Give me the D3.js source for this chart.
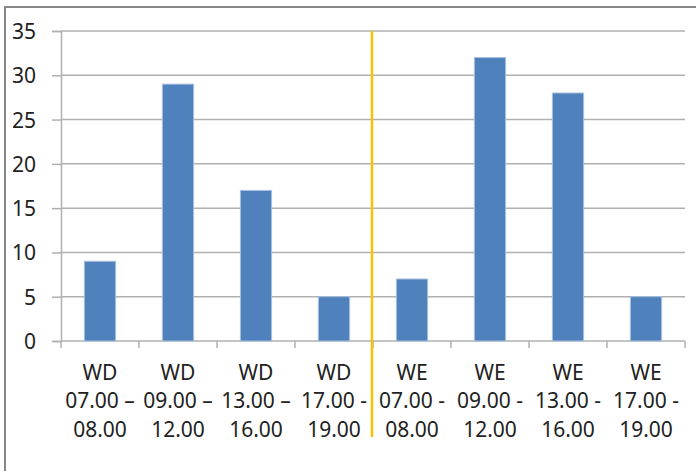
<!DOCTYPE html>
<html><head><meta charset="utf-8">
<script src="https://cdn.jsdelivr.net/npm/d3@7"></script>
<style>body{margin:0;background:#fff;}svg{display:block;}text{font-family:"Noto Sans",sans-serif;fill:#222;}</style>
</head><body><svg id="c" width="698" height="471"></svg>
<script>
const groups = ["WD","WD","WD","WD","WE","WE","WE","WE"];
const startTimes = ["07.00 –","09.00 –","13.00 –","17.00 -","07.00 -","09.00 -","13.00 -","17.00 -"];
const endTimes = ["08.00","12.00","16.00","19.00","08.00","12.00","16.00","19.00"];
const values = [9,29,17,5,7,32,28,5];
const yTicks = [0,5,10,15,20,25,30,35];
const dividerAfter = 4;

(function(){
const svg = d3.select("#c");
const pL=61, pR=685, pT=31, pB=341;
const idx = d3.range(values.length);
const x = d3.scaleBand().domain(idx).range([pL,pR]).paddingInner(0.6).paddingOuter(0.3);
const xb = d3.scaleBand().domain(idx).range([pL,pR]);
const y = d3.scaleLinear().domain([0,35]).range([pB,pT]);

// outer border (top and left)
svg.append("line").attr("x1",5).attr("x2",696).attr("y1",7).attr("y2",7).attr("stroke","#888").attr("stroke-width",2);
svg.append("line").attr("x1",5).attr("x2",5).attr("y1",6).attr("y2",471).attr("stroke","#888").attr("stroke-width",2);

// gridlines
svg.append("g").selectAll("line").data(yTicks.filter(d=>d>0)).join("line")
  .attr("x1",pL).attr("x2",pR).attr("y1",d=>y(d)).attr("y2",d=>y(d))
  .attr("stroke","#b0b0b0").attr("stroke-width",1.5);

// y axis
const ya = svg.append("g").attr("transform",`translate(${pL},0)`)
  .call(d3.axisLeft(y).tickValues(yTicks).tickSize(9).tickPadding(16));
ya.select(".domain").attr("stroke","#b0b0b0").attr("stroke-width",1.5);
ya.selectAll(".tick line").attr("stroke","#b0b0b0").attr("stroke-width",1.5);
ya.selectAll(".tick text").attr("font-size",21).attr("fill","#222").attr("font-family","Noto Sans").attr("dy","0.36em");

// x axis
svg.append("line").attr("x1",pL).attr("x2",pR).attr("y1",pB).attr("y2",pB).attr("stroke","#b0b0b0").attr("stroke-width",1.5);
svg.append("g").selectAll("line").data(d3.range(values.length+1)).join("line")
  .attr("x1",d=>pL+d*xb.step()).attr("x2",d=>pL+d*xb.step())
  .attr("y1",pB).attr("y2",pB+7).attr("stroke","#b0b0b0").attr("stroke-width",1.5);

// bars
svg.append("g").selectAll("rect").data(values).join("rect")
  .attr("x",(d,i)=>x(i)).attr("width",x.bandwidth())
  .attr("y",d=>y(d)).attr("height",d=>y(0)-y(d))
  .attr("fill","#4f81bd").attr("stroke","#a7bfdf").attr("stroke-width",1);

// labels
const lab = svg.append("g").selectAll("text").data(idx).join("text")
  .attr("text-anchor","middle").attr("font-size",21)
  .attr("x",i=>xb(i)+xb.bandwidth()/2);
lab.append("tspan").attr("x",i=>xb(i)+xb.bandwidth()/2).attr("y",380).text(i=>groups[i]);
lab.append("tspan").attr("x",i=>xb(i)+xb.bandwidth()/2).attr("y",408).text(i=>startTimes[i]);
lab.append("tspan").attr("x",i=>xb(i)+xb.bandwidth()/2).attr("y",437).text(i=>endTimes[i]);

// divider
const dx = pL + dividerAfter*xb.step() - 1;
svg.append("line").attr("x1",dx).attr("x2",dx).attr("y1",pT).attr("y2",437)
  .attr("stroke","#FFC000").attr("stroke-width",2.5);
})();
</script></body></html>
